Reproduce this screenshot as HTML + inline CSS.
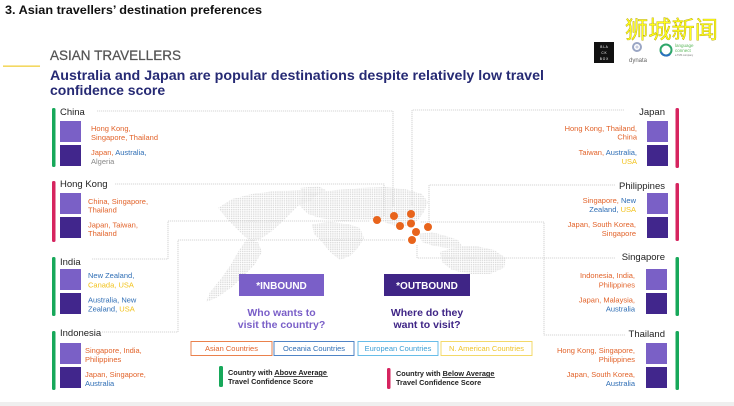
<!DOCTYPE html>
<html><head><meta charset="utf-8"><style>
html,body{margin:0;padding:0;background:#fff;}
svg{display:block;}
text{font-family:"Liberation Sans",Arial,sans-serif;}
</style></head><body>
<svg width="734" height="406" viewBox="0 0 734 406" xmlns="http://www.w3.org/2000/svg">
<defs>
<pattern id="dp" width="2.2" height="2.2" patternUnits="userSpaceOnUse"><rect width="1.4" height="1.4" fill="#dcdcdc"/></pattern>
</defs>
<rect width="734" height="406" fill="#fff"/>
<rect x="0" y="402" width="734" height="4" fill="#efefef"/>

<!-- header -->
<text x="5" y="14" font-size="12" font-weight="bold" fill="#111" textLength="257" lengthAdjust="spacingAndGlyphs">3.   Asian travellers’ destination preferences</text>
<text x="625" y="38" font-size="24" fill="#ffff1a" stroke="#a89400" stroke-width="0.35" style="font-family:'Noto Sans CJK SC','WenQuanYi Zen Hei',sans-serif" textLength="93" lengthAdjust="spacingAndGlyphs">狮城新闻</text>

<!-- logos -->
<rect x="594" y="42" width="20" height="21" fill="#111"/>
<text x="604" y="48" font-size="3.2" fill="#fff" text-anchor="middle">B L A</text>
<text x="604" y="54" font-size="3.2" fill="#fff" text-anchor="middle">C K</text>
<text x="604" y="60" font-size="3.2" fill="#fff" text-anchor="middle">B O X</text>
<circle cx="637" cy="47" r="4" fill="none" stroke="#9aa6c4" stroke-width="2"/>
<circle cx="637" cy="47" r="1.5" fill="#c5cbe0"/>
<text x="638" y="62" font-size="6" fill="#666" text-anchor="middle">dynata</text>
<circle cx="666" cy="50" r="5.5" fill="none" stroke="#2ea66a" stroke-width="2"/>
<path d="M661 52 A5.5 5.5 0 0 0 670 54" fill="none" stroke="#2a6fc0" stroke-width="2"/>
<text x="675" y="47" font-size="4.5" fill="#5cb85c">language</text>
<text x="675" y="52" font-size="4.5" fill="#5cb85c">connect</text>
<text x="675" y="56" font-size="2.5" fill="#777">a TMS company</text>

<!-- section headings -->
<rect x="3" y="65.5" width="37" height="1.3" fill="#f0cf3c"/>
<text x="50" y="60" font-size="13.5" fill="#555" stroke="#555" stroke-width="0.25" textLength="131" lengthAdjust="spacingAndGlyphs">ASIAN TRAVELLERS</text>
<text x="50" y="80" font-size="14" font-weight="bold" fill="#262a74" textLength="494" lengthAdjust="spacingAndGlyphs">Australia and Japan are popular destinations despite relatively low travel</text>
<text x="50" y="95" font-size="14" font-weight="bold" fill="#262a74">confidence score</text>

<!-- world map -->
<g fill="url(#dp)">
<path d="M218 208 L232 199 L252 194 L275 191 L300 190 L318 193 L312 200 L298 206 L290 214 L282 222 L272 231 L262 238 L252 242 L244 236 L236 228 L228 220 Z"/>
<path d="M300 188 L318 186 L326 190 L316 196 L304 195 Z"/>
<path d="M246 240 L258 242 L262 252 L255 264 L244 276 L232 287 L218 297 L206 302 L210 292 L220 280 L230 266 L238 252 Z"/>
<path d="M302 196 L318 192 L336 190 L360 188 L385 187 L405 189 L422 194 L428 202 L424 212 L418 220 L408 226 L396 226 L384 222 L370 220 L356 220 L344 221 L332 220 L320 218 L308 214 L300 206 Z"/>
<path d="M312 224 L330 222 L348 224 L360 228 L364 238 L358 248 L350 256 L340 260 L330 252 L322 242 L314 234 Z"/>
<path d="M418 234 L432 232 L446 236 L458 240 L462 246 L448 248 L434 246 L422 242 Z"/>
<path d="M440 252 L458 246 L476 246 L494 250 L506 258 L504 268 L490 274 L470 274 L452 270 L442 262 Z"/>
</g>

<!-- connector lines -->
<g fill="none" stroke="#c8c8c8" stroke-width="0.8" stroke-dasharray="1.2,0.8">
<path d="M97 111 H393 V207"/>
<path d="M115 184 H384 V216"/>
<path d="M92 259 H168 V221 H370"/>
<path d="M102 332 H178 V240 H405"/>
<path d="M624 110 H412 V206"/>
<path d="M615 185 H429 V222"/>
<path d="M615 258 H417 V245"/>
<path d="M625 335 H544 V222 H420"/>
</g>

<!-- orange dots -->
<g fill="#e8641c">
<circle cx="377" cy="220" r="4"/>
<circle cx="394" cy="216" r="4"/>
<circle cx="400" cy="226" r="4"/>
<circle cx="411" cy="214" r="4"/>
<circle cx="411" cy="223.5" r="4"/>
<circle cx="416" cy="232" r="4"/>
<circle cx="428" cy="227" r="4"/>
<circle cx="412" cy="240" r="4"/>
</g>

<!-- LEFT PANELS -->
<g font-size="7.5">
<!-- China -->
<rect x="52" y="108" width="3.5" height="59" rx="1.5" fill="#17a85a"/>
<text x="60" y="115" font-size="9.5" fill="#222">China</text>
<rect x="60" y="121" width="21" height="21" fill="#7a60c6"/>
<rect x="60" y="145" width="21" height="21" fill="#41268c"/>
<text x="91" y="131" fill="#e2632a">Hong Kong,</text>
<text x="91" y="140" fill="#e2632a">Singapore, Thailand</text>
<text x="91" y="155"><tspan fill="#e2632a">Japan, </tspan><tspan fill="#2f6eb5">Australia,</tspan></text>
<text x="91" y="164" fill="#888">Algeria</text>

<!-- Hong Kong -->
<rect x="52" y="181" width="3.5" height="61" rx="1.5" fill="#d6245f"/>
<text x="60" y="187" font-size="9.5" fill="#222">Hong Kong</text>
<rect x="60" y="193" width="21" height="21" fill="#7a60c6"/>
<rect x="60" y="217" width="21" height="21" fill="#41268c"/>
<text x="88" y="204" fill="#e2632a">China, Singapore,</text>
<text x="88" y="212.5" fill="#e2632a">Thailand</text>
<text x="88" y="227.5" fill="#e2632a">Japan, Taiwan,</text>
<text x="88" y="236" fill="#e2632a">Thailand</text>

<!-- India -->
<rect x="52" y="257" width="3.5" height="59" rx="1.5" fill="#17a85a"/>
<text x="60" y="265" font-size="9.5" fill="#222">India</text>
<rect x="60" y="269" width="21" height="21" fill="#7a60c6"/>
<rect x="60" y="293" width="21" height="21" fill="#41268c"/>
<text x="88" y="278" fill="#2f6eb5">New Zealand,</text>
<text x="88" y="287.5" fill="#f2c21b">Canada, USA</text>
<text x="88" y="302.5" fill="#2f6eb5">Australia, New</text>
<text x="88" y="311.5"><tspan fill="#2f6eb5">Zealand, </tspan><tspan fill="#f2c21b">USA</tspan></text>

<!-- Indonesia -->
<rect x="52" y="331" width="3.5" height="59" rx="1.5" fill="#17a85a"/>
<text x="60" y="336" font-size="9.5" fill="#222">Indonesia</text>
<rect x="60" y="343" width="21" height="21" fill="#7a60c6"/>
<rect x="60" y="367" width="21" height="21" fill="#41268c"/>
<text x="85" y="353" fill="#e2632a">Singapore, India,</text>
<text x="85" y="362" fill="#e2632a">Philippines</text>
<text x="85" y="377" fill="#e2632a">Japan, Singapore,</text>
<text x="85" y="386" fill="#2f6eb5">Australia</text>
</g>

<!-- RIGHT PANELS -->
<g font-size="7.5" text-anchor="end">
<!-- Japan -->
<rect x="675.5" y="108" width="3.5" height="60" rx="1.5" fill="#d6245f"/>
<text x="665" y="115" font-size="9.5" fill="#222">Japan</text>
<rect x="647" y="121" width="21" height="21" fill="#7a60c6"/>
<rect x="647" y="145" width="21" height="21" fill="#41268c"/>
<text x="637" y="131" fill="#e2632a">Hong Kong, Thailand,</text>
<text x="637" y="139.5" fill="#e2632a">China</text>
<text x="637" y="155"><tspan fill="#e2632a">Taiwan, </tspan><tspan fill="#2f6eb5">Australia,</tspan></text>
<text x="637" y="164" fill="#f2c21b">USA</text>

<!-- Philippines -->
<rect x="675.5" y="183" width="3.5" height="58" rx="1.5" fill="#d6245f"/>
<text x="665" y="189" font-size="9.5" fill="#222">Philippines</text>
<rect x="647" y="193" width="21" height="21" fill="#7a60c6"/>
<rect x="647" y="217" width="21" height="21" fill="#41268c"/>
<text x="636" y="203"><tspan fill="#e2632a">Singapore, </tspan><tspan fill="#2f6eb5">New</tspan></text>
<text x="636" y="212"><tspan fill="#2f6eb5">Zealand, </tspan><tspan fill="#f2c21b">USA</tspan></text>
<text x="636" y="227" fill="#e2632a">Japan, South Korea,</text>
<text x="636" y="236" fill="#e2632a">Singapore</text>

<!-- Singapore -->
<rect x="675.5" y="257" width="3.5" height="59" rx="1.5" fill="#17a85a"/>
<text x="665" y="260" font-size="9.5" fill="#222">Singapore</text>
<rect x="646" y="269" width="21" height="21" fill="#7a60c6"/>
<rect x="646" y="293" width="21" height="21" fill="#41268c"/>
<text x="635" y="278" fill="#e2632a">Indonesia, India,</text>
<text x="635" y="287.5" fill="#e2632a">Philippines</text>
<text x="635" y="302.5" fill="#e2632a">Japan, Malaysia,</text>
<text x="635" y="311.5" fill="#2f6eb5">Australia</text>

<!-- Thailand -->
<rect x="675.5" y="331" width="3.5" height="59" rx="1.5" fill="#17a85a"/>
<text x="665" y="337" font-size="9.5" fill="#222">Thailand</text>
<rect x="646" y="343" width="21" height="21" fill="#7a60c6"/>
<rect x="646" y="367" width="21" height="21" fill="#41268c"/>
<text x="635" y="353" fill="#e2632a">Hong Kong, Singapore,</text>
<text x="635" y="362" fill="#e2632a">Philippines</text>
<text x="635" y="377" fill="#e2632a">Japan, South Korea,</text>
<text x="635" y="386" fill="#2f6eb5">Australia</text>
</g>

<!-- center: inbound / outbound -->
<rect x="239" y="274" width="85" height="22" fill="#7a5fc8"/>
<text x="281.5" y="289" font-size="10" font-weight="bold" fill="#fff" text-anchor="middle">*INBOUND</text>
<text x="281.5" y="316" font-size="10.5" font-weight="bold" fill="#7a5fc8" text-anchor="middle">Who wants to</text>
<text x="281.5" y="328" font-size="10.5" font-weight="bold" fill="#7a5fc8" text-anchor="middle">visit the country?</text>

<rect x="384" y="274" width="86" height="22" fill="#3f2586"/>
<text x="427" y="289" font-size="10" font-weight="bold" fill="#fff" text-anchor="middle">*OUTBOUND</text>
<text x="427" y="316" font-size="10.5" font-weight="bold" fill="#3f2586" text-anchor="middle">Where do they</text>
<text x="427" y="328" font-size="10.5" font-weight="bold" fill="#3f2586" text-anchor="middle">want to visit?</text>

<!-- category legend -->
<g font-size="7.5" text-anchor="middle" stroke-width="0.9">
<rect x="191" y="341.5" width="81" height="14" fill="#fff" stroke="#e8743a"/>
<text x="231.5" y="351" fill="#e2632a" stroke="none">Asian Countries</text>
<rect x="274" y="341.5" width="80" height="14" fill="#fff" stroke="#3d78c0"/>
<text x="314" y="351" fill="#2f6eb5" stroke="none">Oceania Countries</text>
<rect x="358" y="341.5" width="80" height="14" fill="#fff" stroke="#58b6e6"/>
<text x="398" y="351" fill="#3c9fd6" stroke="none">European Countries</text>
<rect x="441" y="341.5" width="91" height="14" fill="#fff" stroke="#f2d55a"/>
<text x="486.5" y="351" fill="#efc42a" stroke="none">N. American Countries</text>
</g>

<!-- confidence legend -->
<rect x="219" y="366" width="4" height="21" rx="1.5" fill="#17a85a"/>
<text x="228" y="375" font-size="7.3" font-weight="bold" fill="#222">Country with <tspan text-decoration="underline">Above Average</tspan></text>
<line x1="274" y1="376.3" x2="328" y2="376.3" stroke="#222" stroke-width="0.6"/>
<text x="228" y="384" font-size="7.3" font-weight="bold" fill="#222">Travel Confidence Score</text>

<rect x="387" y="368" width="3.5" height="21" rx="1.5" fill="#d6245f"/>
<text x="396" y="376" font-size="7.3" font-weight="bold" fill="#222">Country with <tspan text-decoration="underline">Below Average</tspan></text>
<line x1="442" y1="377.3" x2="495" y2="377.3" stroke="#222" stroke-width="0.6"/>
<text x="396" y="385" font-size="7.3" font-weight="bold" fill="#222">Travel Confidence Score</text>
</svg>
</body></html>
